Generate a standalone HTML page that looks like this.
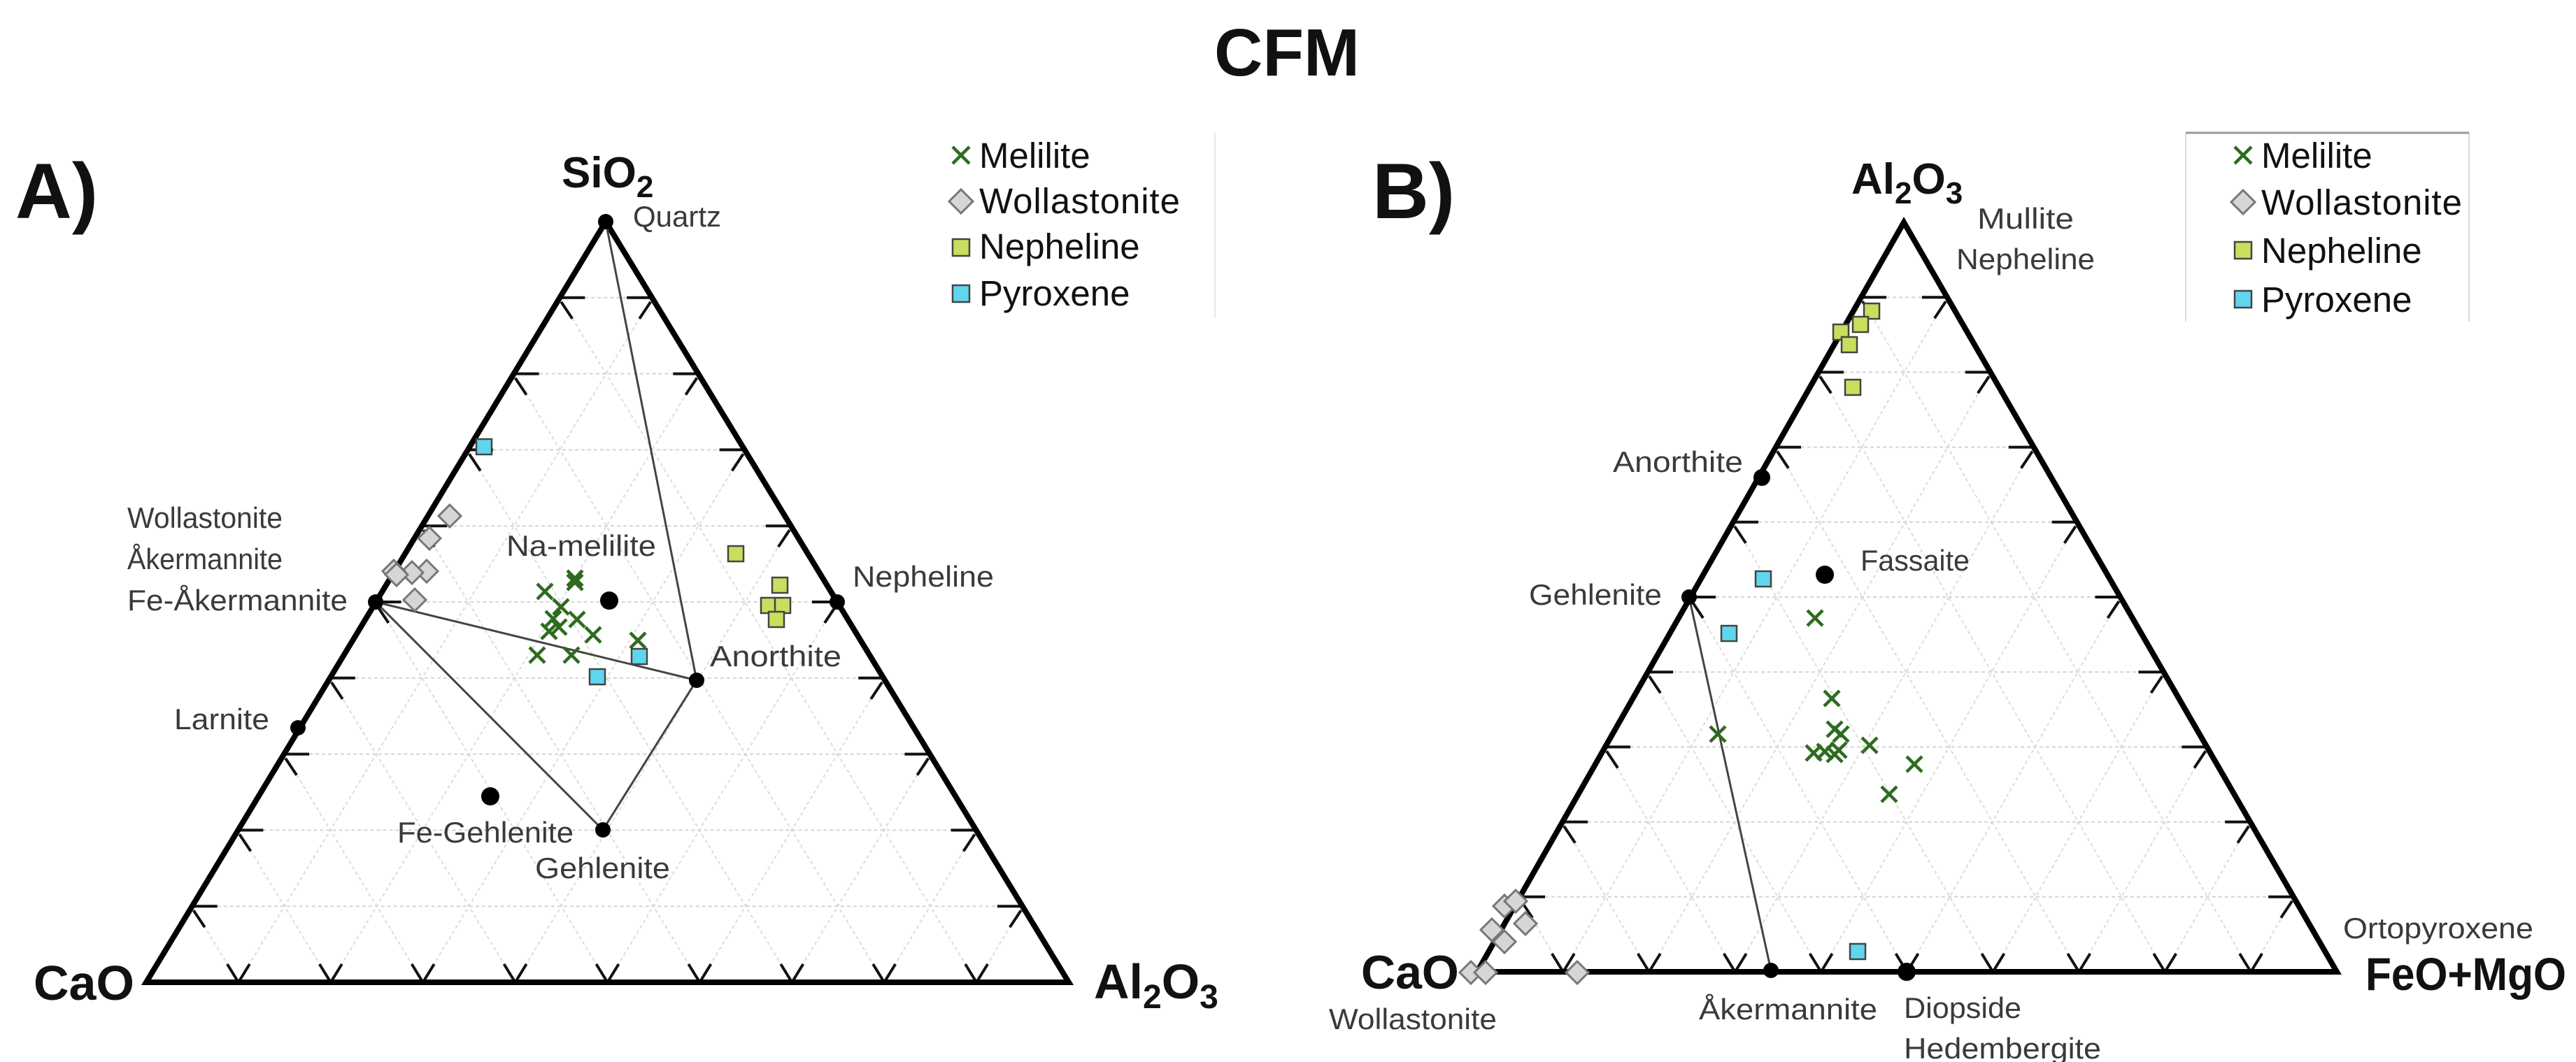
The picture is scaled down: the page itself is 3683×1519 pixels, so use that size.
<!DOCTYPE html>
<html><head><meta charset="utf-8"><style>
html,body{margin:0;padding:0;background:#fff;}
svg{display:block;}
.ax{font-family:"Liberation Sans",Arial,sans-serif;font-weight:bold;fill:#111;}
.lb{font-family:"Liberation Sans",Arial,sans-serif;fill:#3a3a3a;font-size:42px;}
.lg{font-family:"Liberation Sans",Arial,sans-serif;fill:#111;font-size:51px;}
</style></head><body>
<svg id="s" width="3683" height="1519" viewBox="0 0 3683 1519" xmlns="http://www.w3.org/2000/svg">
<rect width="3683" height="1519" fill="#fff"/>
<g id="grid"></g>
<g id="marks"></g>
<text class="ax" x="1840" y="108" font-size="96" text-anchor="middle">CFM</text>
<!-- Panel A -->
<text class="ax" x="22" y="312" font-size="112">A)</text>
<text class="ax" x="803" y="268" font-size="62">SiO<tspan font-size="44" dy="14">2</tspan></text>
<text class="ax" x="48" y="1430" font-size="70">CaO</text>
<text class="ax" x="1564" y="1428" font-size="70">Al<tspan font-size="48" dy="14">2</tspan><tspan dy="-14">O</tspan><tspan font-size="48" dy="14">3</tspan></text>
<text class="lb" x="905" y="324" font-size="34">Quartz</text>
<text class="lb" x="182" y="755" textLength="222" lengthAdjust="spacingAndGlyphs">Wollastonite</text>
<text class="lb" x="182" y="814" textLength="222" lengthAdjust="spacingAndGlyphs">Åkermannite</text>
<text class="lb" x="182" y="873" textLength="315" lengthAdjust="spacingAndGlyphs">Fe-Åkermannite</text>
<text class="lb" x="249" y="1043" textLength="136" lengthAdjust="spacingAndGlyphs">Larnite</text>
<text class="lb" x="724" y="795" textLength="214" lengthAdjust="spacingAndGlyphs">Na-melilite</text>
<text class="lb" x="1219" y="839" textLength="202" lengthAdjust="spacingAndGlyphs">Nepheline</text>
<text class="lb" x="1015" y="953" textLength="188" lengthAdjust="spacingAndGlyphs">Anorthite</text>
<text class="lb" x="568" y="1205" textLength="252" lengthAdjust="spacingAndGlyphs">Fe-Gehlenite</text>
<text class="lb" x="765" y="1256" textLength="193" lengthAdjust="spacingAndGlyphs">Gehlenite</text>
<text class="lg" x="1400" y="240">Melilite</text>
<text class="lg" x="1400" y="305" textLength="287">Wollastonite</text>
<text class="lg" x="1400" y="370">Nepheline</text>
<text class="lg" x="1400" y="437">Pyroxene</text>
<line x1="1737" y1="190" x2="1737" y2="455" stroke="#e6e6e6" stroke-width="2"/>
<!-- Panel B -->
<text class="ax" x="1962" y="312" font-size="112">B)</text>
<text class="ax" x="2647" y="277" font-size="62">Al<tspan font-size="44" dy="14">2</tspan><tspan dy="-14">O</tspan><tspan font-size="44" dy="14">3</tspan></text>
<text class="lb" x="2827" y="327" textLength="138" lengthAdjust="spacingAndGlyphs">Mullite</text>
<text class="lb" x="2797" y="385" textLength="198" lengthAdjust="spacingAndGlyphs">Nepheline</text>
<text class="ax" x="1946" y="1414" font-size="68">CaO</text>
<text class="lb" x="1900" y="1472" textLength="240" lengthAdjust="spacingAndGlyphs">Wollastonite</text>
<text class="ax" x="3382" y="1416" font-size="66" textLength="287" lengthAdjust="spacingAndGlyphs">FeO+MgO</text>
<text class="lb" x="3350" y="1342" textLength="272" lengthAdjust="spacingAndGlyphs">Ortopyroxene</text>
<text class="lb" x="2306" y="675" textLength="186" lengthAdjust="spacingAndGlyphs">Anorthite</text>
<text class="lb" x="2186" y="865" textLength="190" lengthAdjust="spacingAndGlyphs">Gehlenite</text>
<text class="lb" x="2660" y="816" textLength="156" lengthAdjust="spacingAndGlyphs">Fassaite</text>
<text class="lb" x="2429" y="1458" textLength="255" lengthAdjust="spacingAndGlyphs">Åkermannite</text>
<text class="lb" x="2722" y="1456" textLength="168" lengthAdjust="spacingAndGlyphs">Diopside</text>
<text class="lb" x="2722" y="1514" textLength="282" lengthAdjust="spacingAndGlyphs">Hedembergite</text>
<path d="M3125 460 V190 H3530 V460" fill="none" stroke="#dcdcdc" stroke-width="2"/>
<line x1="3125" y1="190" x2="3530" y2="190" stroke="#999" stroke-width="3"/>
<text class="lg" x="3233" y="240">Melilite</text>
<text class="lg" x="3233" y="307" textLength="287">Wollastonite</text>
<text class="lg" x="3233" y="376">Nepheline</text>
<text class="lg" x="3233" y="446">Pyroxene</text>
</svg>
<script>
var NS="http://www.w3.org/2000/svg";
var G=document.getElementById("grid"),M=document.getElementById("marks");
function el(p,t,a){var e=document.createElementNS(NS,t);for(var k in a)e.setAttribute(k,a[k]);p.appendChild(e);return e;}
function ln(p,x1,y1,x2,y2,c,w,d){var a={x1:x1,y1:y1,x2:x2,y2:y2,stroke:c,"stroke-width":w};if(d)a["stroke-dasharray"]=d;return el(p,"line",a);}
function tri(T,L,R){
 for(var i=1;i<10;i++){var t=i/10;
  var P=[L[0]+t*(T[0]-L[0]),L[1]+t*(T[1]-L[1])],Q=[R[0]+t*(T[0]-R[0]),R[1]+t*(T[1]-R[1])];
  var B=[L[0]+t*(R[0]-L[0]),L[1]+t*(R[1]-L[1])];
  ln(G,P[0],P[1],Q[0],Q[1],"#d4d4d4",2,"5,4");
  ln(G,B[0],B[1],B[0]+(1-t)*(T[0]-L[0]),B[1]+(1-t)*(T[1]-L[1]),"#dcdcdc",2,"5,4");
  ln(G,B[0],B[1],B[0]+t*(T[0]-R[0]),B[1]+t*(T[1]-R[1]),"#dcdcdc",2,"5,4");
  ln(M,B[0],B[1],B[0]-16,B[1]-26,"#111",4);ln(M,B[0],B[1],B[0]+16,B[1]-26,"#111",4);
  ln(M,P[0],P[1],P[0]+36,P[1],"#111",4);ln(M,P[0]+2,P[1]+6,P[0]+18,P[1]+30,"#111",4);
  ln(M,Q[0],Q[1],Q[0]-36,Q[1],"#111",4);ln(M,Q[0]-2,Q[1]+6,Q[0]-18,Q[1]+30,"#111",4);
 }
 el(M,"polygon",{points:T+" "+L+" "+R,fill:"none",stroke:"#000","stroke-width":8,"stroke-linejoin":"miter"});
}
tri([866,317],[209,1405],[1528,1405]);
tri([2722,318],[2112,1390],[3341,1390]);
function pl(pts){el(M,"polyline",{points:pts,fill:"none",stroke:"#444","stroke-width":3});}
pl("866,317 996,973");pl("537,861 996,973");pl("537,861 862,1187 996,973");
pl("2415,854 2532,1388");
function dot(x,y,r){el(M,"circle",{cx:x,cy:y,r:r||12,fill:"#000"});}
function X(x,y,s){s=s||11;ln(M,x-s,y-s,x+s,y+s,"#2e6b1e",4.5);ln(M,x-s,y+s,x+s,y-s,"#2e6b1e",4.5);}
function D(x,y,s){s=s||16;el(M,"polygon",{points:(x)+","+(y-s)+" "+(x+s)+","+y+" "+x+","+(y+s)+" "+(x-s)+","+y,fill:"#d6d6d6",stroke:"#777","stroke-width":3});}
function S(x,y,c,s){s=s||22;el(M,"rect",{x:x-s/2,y:y-s/2,width:s,height:s,fill:c,stroke:"#444","stroke-width":2.5});}
var NE="#c9de5c",PY="#5fd6ee";
[[822,827],[822,833],[779,846],[802,868],[791,885],[799,897],[785,903],[825,886],[848,908],[912,916],[768,937],[817,937]].forEach(function(p){X(p[0],p[1]);});
[[643,738],[614,770],[610,817],[589,819],[563,817],[567,822],[593,858]].forEach(function(p){D(p[0],p[1]);});
[[692,639],[914,939],[854,968]].forEach(function(p){S(p[0],p[1],PY);});
[[1052,792],[1115,837],[1099,866],[1119,866],[1110,886]].forEach(function(p){S(p[0],p[1],NE);});
[[866,317],[537,861],[426,1041],[1197,861],[996,973],[862,1187]].forEach(function(p){dot(p[0],p[1],11);});
dot(871,859,13);dot(701,1139,13);
[[2595,884],[2619,999],[2456,1050],[2623,1043],[2632,1050],[2673,1066],[2593,1077],[2609,1075],[2623,1079],[2629,1073],[2737,1093],[2701,1136]].forEach(function(p){X(p[0],p[1]);});
[[2151,1296],[2167,1289],[2133,1330],[2181,1321],[2151,1347],[2103,1391],[2124,1391],[2255,1391]].forEach(function(p){D(p[0],p[1]);});
[[2676,445],[2660,464],[2632,475],[2644,493],[2649,554]].forEach(function(p){S(p[0],p[1],NE);});
[[2521,828],[2472,906],[2656,1361]].forEach(function(p){S(p[0],p[1],PY);});
dot(2519,683,12);dot(2415,854,11);dot(2609,822,13);dot(2532,1388,11);dot(2726,1390,13);
X(1374,222,12);D(1374,288,17);S(1374,354,NE,24);S(1374,420,PY,24);
X(3207,222,12);D(3207,289,17);S(3207,358,NE,24);S(3207,428,PY,24);
</script>
</body></html>
